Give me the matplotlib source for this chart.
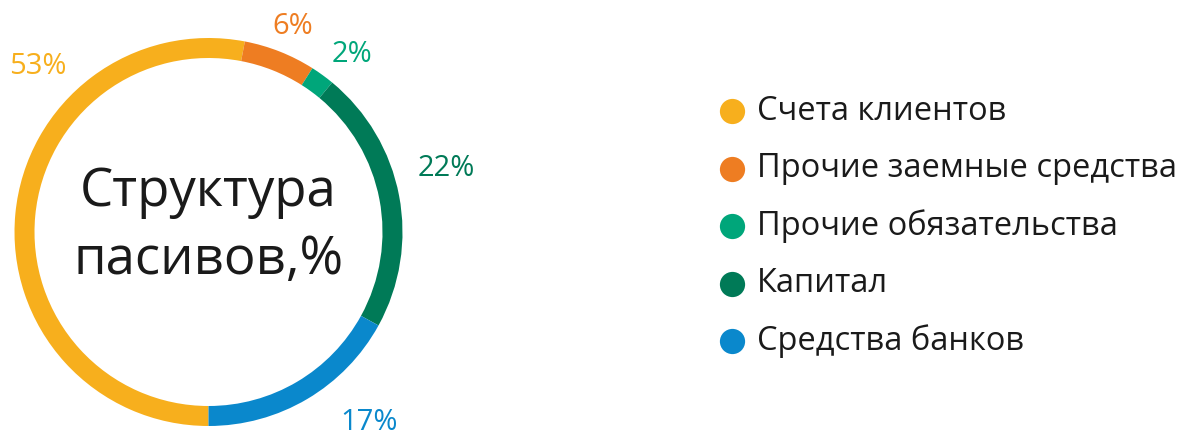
import matplotlib.pyplot as plt

plt.rcParams['font.family'] = ['Open Sans', 'DejaVu Sans']

categories = ["Счета клиентов", "Прочие заемные средства", "Прочие обязательства",
              "Капитал", "Средства банков"]
values = [53, 6, 2, 22, 17]
colors = ["#F7AF1D", "#EE7D22", "#00A67A", "#007A57", "#0A88CC"]
pct_labels = ["53%", "6%", "2%", "22%", "17%"]
# label positions in pixels (x, y from top)
label_pos = [(38, 67), (293, 27), (352, 55), (446, 168), (369, 423)]

W, H = 1186, 432
fig = plt.figure(figsize=(W / 100, H / 100), dpi=100)
ax = fig.add_axes([0, 0, 1, 1])

cx, cy, r = 208.5, H - 232, 194
ax.pie(values, colors=colors, startangle=-90, counterclock=False,
       center=(cx, cy), radius=r, frame=True,
       wedgeprops=dict(width=20, linewidth=0))
ax.set_xlim(0, W)
ax.set_ylim(0, H)
ax.set_aspect('equal')
ax.axis('off')

for lab, (x, y), c in zip(pct_labels, label_pos, colors):
    ax.text(x, H - y, lab, color=c, fontsize=21, ha='center', va='center')

ax.text(cx, H - 226, "Структура\nпасивов,%", fontsize=38, ha='center', va='center',
        color="#1a1a1a", linespacing=1.35)

# legend
for i, (name, c) in enumerate(zip(categories, colors)):
    y = H - (111 + i * 57.5)
    ax.scatter([732], [y], s=330, color=c, linewidths=0)
    ax.text(757, y, name, fontsize=23.5, ha='left', va='center', color="#1a1a1a")

fig.savefig("out.png", dpi=100)
